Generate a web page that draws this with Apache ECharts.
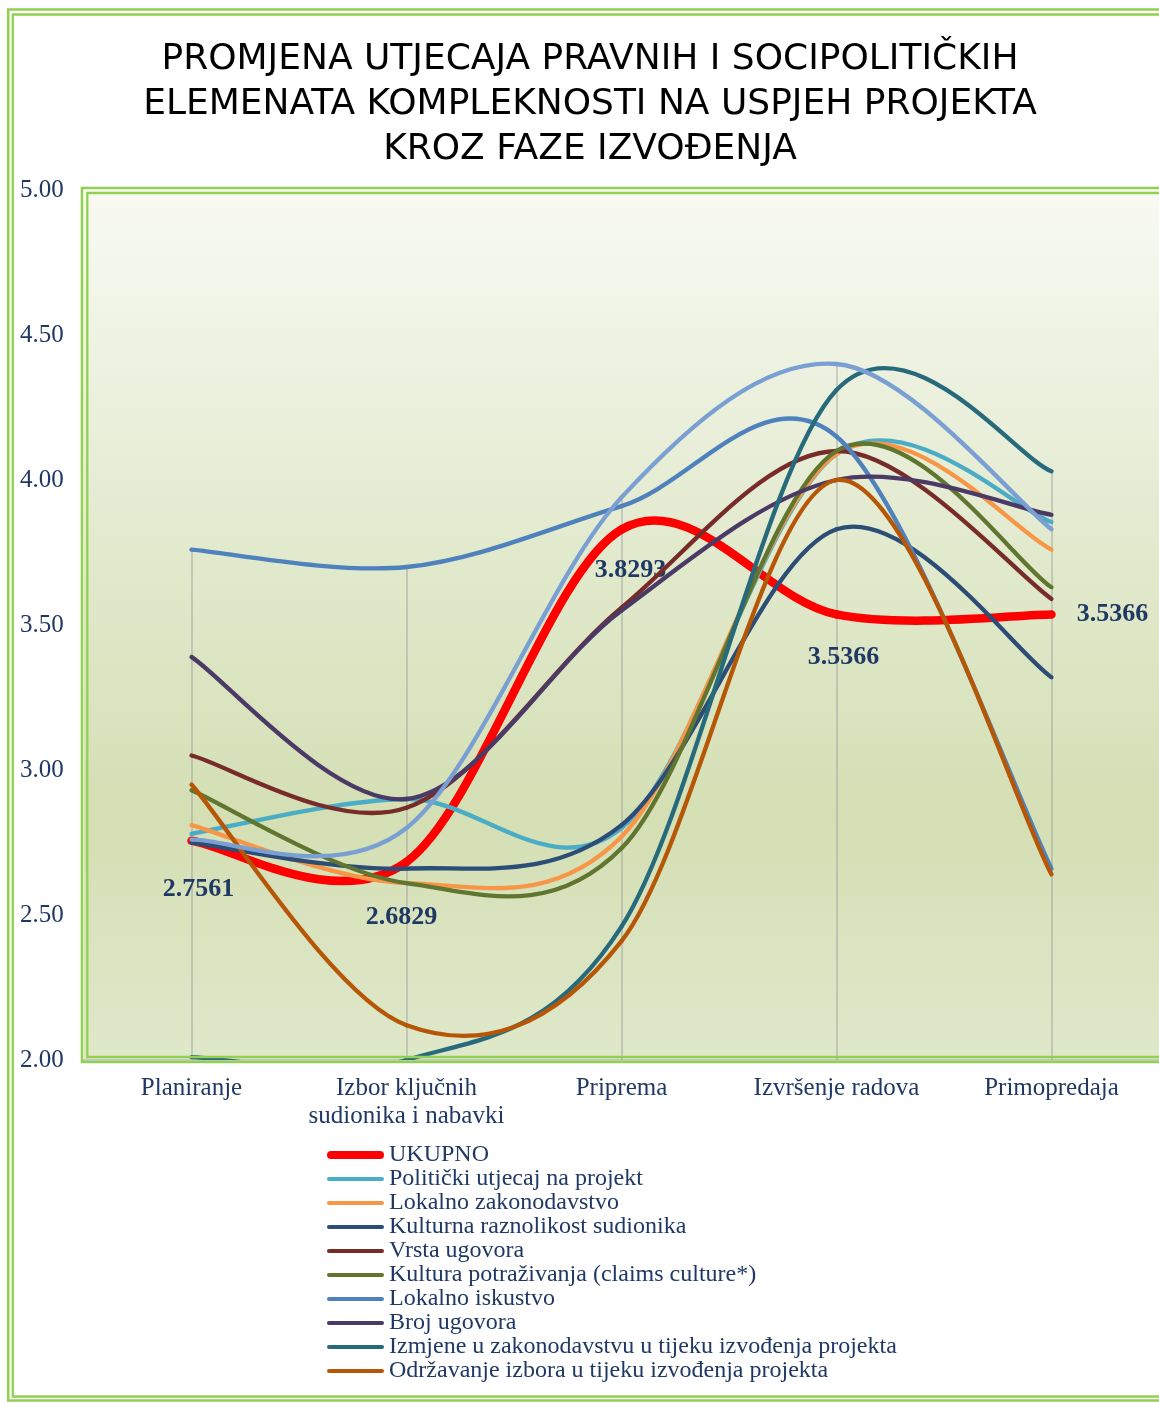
<!DOCTYPE html>
<html>
<head>
<meta charset="utf-8">
<title>Promjena utjecaja</title>
<script src="https://cdn.jsdelivr.net/npm/echarts@6/dist/echarts.min.js"></script>
<style>
    html, body { margin: 0; padding: 0; background: #ffffff; }
    #chart { width: 1159px; height: 1403px; }
</style>
</head>
<body>
<div id="chart"></div>
<script>
// faze izvođenja (kategorije)
const faze = ['Planiranje', 'Izbor ključnih\nsudionika i nabavki', 'Priprema', 'Izvršenje radova', 'Primopredaja'];

// vrijednosti po seriji
const ukupno = [2.7561, 2.6829, 3.8293, 3.5366, 3.5366];
const politicki = [2.78, 2.90, 2.80, 4.09, 3.855];
const lokalnoZakonodavstvo = [2.81, 2.61, 2.77, 4.09, 3.76];
const kulturnaRaznolikost = [2.75, 2.66, 2.81, 3.83, 3.32];
const vrstaUgovora = [3.05, 2.87, 3.56, 4.10, 3.59];
const kulturaPotrazivanja = [2.93, 2.61, 2.73, 4.10, 3.63];
const lokalnoIskustvo = [3.76, 3.70, 3.91, 4.15, 2.66];
const brojUgovora = [3.39, 2.90, 3.55, 4.00, 3.88];
const izmjeneZakonodavstva = [2.01, 2.00, 2.46, 4.31, 4.03];
const odrzavanjeIzbora = [2.95, 2.12, 2.41, 4.00, 2.64];
const bezLegende = [2.76, 2.80, 3.94, 4.40, 3.83];

// os y
const yMin = 2;
const yMax = 5;
const yStep = 0.5;

const naziviLegende = [
    'UKUPNO',
    'Politički utjecaj na projekt',
    'Lokalno zakonodavstvo',
    'Kulturna raznolikost sudionika',
    'Vrsta ugovora',
    'Kultura potraživanja (claims culture*)',
    'Lokalno iskustvo',
    'Broj ugovora',
    'Izmjene u zakonodavstvu u tijeku izvođenja projekta',
    'Održavanje izbora u tijeku izvođenja projekta'
];

const tamnoPlava = '#1F3864';
const zelenaLinija = '#92D050';

// ikone legende: deblja crta za UKUPNO, tanja za ostale
const ikonaDebela = 'path://M4,0 L53,0 A4,4 0 0 1 53,8 L4,8 A4,4 0 0 1 4,0 Z';
const ikonaTanka = 'path://M2,0 L55,0 A2,2 0 0 1 55,4 L2,4 A2,2 0 0 1 2,0 Z';

// pomaci oznaka vrijednosti za UKUPNO
const pomakOznake = [[7, 5], [-5, 12], [9, -2], [7, 0], [0, 0]];

// glatka krivulja kao u Excelu (Catmull-Rom / Bezier), točke preko api.coord
function glatkaLinija(vals, boja, debljina) {
    return function (params, api) {
        const i = params.dataIndex;
        if (i >= vals.length - 1) return null;
        const tocka = j => {
            const k = Math.max(0, Math.min(vals.length - 1, j));
            return api.coord([k, vals[k]]);
        };
        const p0 = tocka(i - 1), p1 = tocka(i), p2 = tocka(i + 1), p3 = tocka(i + 2);
        return {
            type: 'bezierCurve',
            shape: {
                x1: p1[0], y1: p1[1],
                cpx1: p1[0] + (p2[0] - p0[0]) / 6, cpy1: p1[1] + (p2[1] - p0[1]) / 6,
                cpx2: p2[0] - (p3[0] - p1[0]) / 6, cpy2: p2[1] - (p3[1] - p1[1]) / 6,
                x2: p2[0], y2: p2[1]
            },
            style: { stroke: boja, lineWidth: debljina, fill: null, lineCap: 'round' }
        };
    };
}

function initChart() {
    const chart = echarts.init(document.getElementById('chart'));

    const sveSerije = [
        { name: naziviLegende[0], data: ukupno, color: '#FF0000', width: 8.5 },
        { name: naziviLegende[1], data: politicki, color: '#4BACC6', width: 4.3 },
        { name: naziviLegende[2], data: lokalnoZakonodavstvo, color: '#F79646', width: 4.3 },
        { name: naziviLegende[3], data: kulturnaRaznolikost, color: '#2C4D75', width: 4.3 },
        { name: naziviLegende[4], data: vrstaUgovora, color: '#772C2A', width: 4.3 },
        { name: naziviLegende[5], data: kulturaPotrazivanja, color: '#5F7530', width: 4.3 },
        { name: naziviLegende[6], data: lokalnoIskustvo, color: '#4F81BD', width: 4.3 },
        { name: naziviLegende[7], data: brojUgovora, color: '#4B3A66', width: 4.3 },
        { name: naziviLegende[8], data: izmjeneZakonodavstva, color: '#276A7C', width: 4.3 },
        { name: naziviLegende[9], data: odrzavanjeIzbora, color: '#B65708', width: 4.3 },
        { name: 'Ostalo', data: bezLegende, color: '#7A9FD3', width: 4.3 }
    ];

    // vertikalne linije od najviše točke do osi
    const vrhovi = faze.map((f, i) => Math.max(...sveSerije.map(s => s.data[i])));
    const okomiteLinije = faze.map((f, i) => [
        { xAxis: i, yAxis: vrhovi[i] },
        { xAxis: i, yAxis: yMin }
    ]);

    // oznake vrijednosti za UKUPNO i okomite linije
    const oznake = {
        name: 'UKUPNO oznake',
        type: 'scatter',
        symbolSize: 0.5,
        z: 2,
        itemStyle: { color: '#FF0000', opacity: 1 },
        data: ukupno.map((v, i) => ({
            value: [i, v],
            label: i === ukupno.length - 1
                ? { position: 'right', distance: 25 }
                : { position: 'bottom', distance: 30, offset: pomakOznake[i] }
        })),
        label: {
            show: true,
            opacity: 1,
            formatter: p => p.value[1].toFixed(4),
            fontFamily: 'Liberation Serif',
            fontWeight: 'bold',
            fontSize: 26,
            color: tamnoPlava,
            textBorderWidth: 0
        },
        emphasis: { disabled: true },
        markLine: {
            silent: true,
            z: 1,
            symbol: ['none', 'none'],
            label: { show: false },
            lineStyle: { color: 'rgba(150,150,150,0.4)', width: 2, type: 'solid' },
            emphasis: { disabled: true },
            data: okomiteLinije
        }
    };

    const linije = sveSerije.map(s => ({
        name: s.name,
        type: 'custom',
        clip: true,
        z: 3,
        itemStyle: { color: s.color },
        data: s.data.map((v, i) => [i, v]),
        encode: { x: 0, y: 1 },
        renderItem: glatkaLinija(s.data, s.color, s.width)
    }));

    const option = {
        backgroundColor: '#ffffff',
        animation: false,
        title: {
            text: 'PROMJENA UTJECAJA PRAVNIH I SOCIPOLITIČKIH\nELEMENATA KOMPLEKNOSTI NA USPJEH PROJEKTA\nKROZ FAZE IZVOĐENJA',
            left: 590,
            top: 37.5,
            textAlign: 'center',
            padding: 0,
            textStyle: {
                fontFamily: 'DejaVu Sans',
                fontSize: 36,
                fontWeight: 'normal',
                color: '#000000',
                lineHeight: 44.7
            }
        },
        legend: {
            data: naziviLegende.map((n, i) => ({ name: n, icon: i === 0 ? ikonaDebela : ikonaTanka })),
            orient: 'vertical',
            left: 327,
            top: 1143,
            padding: 0,
            itemWidth: 57,
            itemHeight: 8,
            itemGap: 0,
            textStyle: {
                fontFamily: 'Liberation Serif',
                fontSize: 24,
                lineHeight: 23.8,
                color: tamnoPlava
            }
        },
        grid: {
            left: 84,
            top: 190,
            width: 1078,
            height: 870,
            show: true,
            borderWidth: 0,
            backgroundColor: new echarts.graphic.LinearGradient(0, 0, 0, 1, [
                { offset: 0, color: '#F8FAF3' },
                { offset: 0.35, color: '#E5ECD3' },
                { offset: 0.72, color: '#D4DFB4' },
                { offset: 1, color: '#DFE8CA' }
            ])
        },
        xAxis: {
            type: 'category',
            data: faze,
            boundaryGap: true,
            axisLine: { show: true, lineStyle: { color: '#C8C8C8', width: 3 } },
            axisTick: { show: false },
            splitLine: { show: false },
            axisLabel: {
                fontFamily: 'Liberation Serif',
                fontSize: 25,
                lineHeight: 28,
                color: tamnoPlava,
                margin: 14,
                interval: 0
            }
        },
        yAxis: {
            type: 'value',
            min: yMin,
            max: yMax,
            interval: yStep,
            axisLine: { show: false },
            axisTick: { show: false },
            splitLine: { show: false },
            axisLabel: {
                formatter: v => v.toFixed(2),
                fontFamily: 'Liberation Serif',
                fontSize: 25,
                color: tamnoPlava,
                align: 'left',
                margin: 64
            }
        },
        graphic: [
            { type: 'rect', silent: true, z: 20, shape: { x: 8.2, y: 9.5, width: 1200, height: 1391 }, style: { fill: null, stroke: zelenaLinija, lineWidth: 2.6 } },
            { type: 'rect', silent: true, z: 20, shape: { x: 12.8, y: 14.5, width: 1200, height: 1382 }, style: { fill: null, stroke: zelenaLinija, lineWidth: 2.3 } },
            { type: 'rect', silent: true, z: 20, shape: { x: 82, y: 188, width: 1100, height: 874 }, style: { fill: null, stroke: zelenaLinija, lineWidth: 2.6 } },
            { type: 'rect', silent: true, z: 20, shape: { x: 87.3, y: 193, width: 1090, height: 864 }, style: { fill: null, stroke: zelenaLinija, lineWidth: 2.3 } }
        ],
        series: [oznake].concat(linije)
    };

    chart.setOption(option);
}

window.onload = function() {
    initChart();
};
</script>
</body>
</html>
